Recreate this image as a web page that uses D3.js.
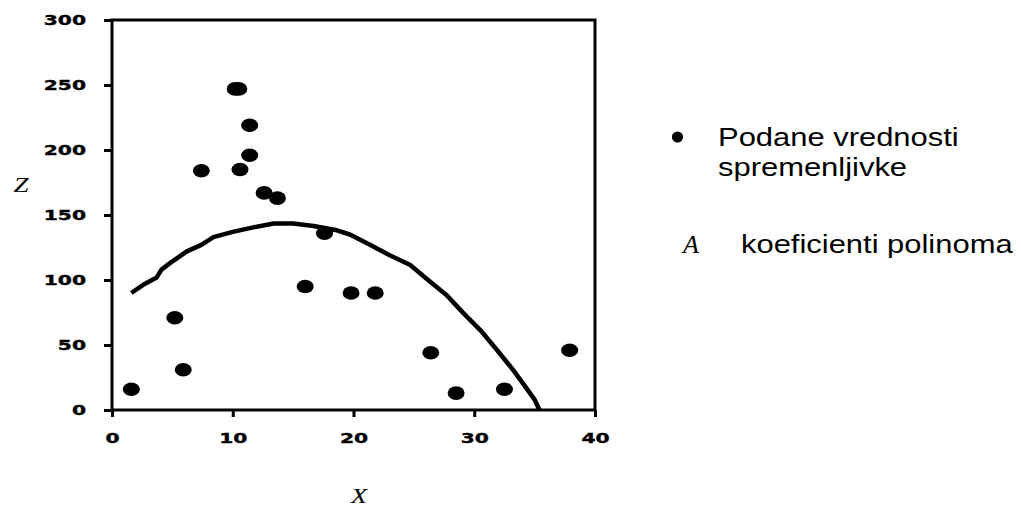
<!DOCTYPE html>
<html>
<head>
<meta charset="utf-8">
<script src="https://cdn.jsdelivr.net/npm/d3@7"></script>
<style>
  html, body { margin: 0; padding: 0; background: #fff; }
  svg { display: block; }
  .tick text { font-family: "DejaVu Sans", sans-serif; font-weight: bold; font-size: 14px; fill: #000; stroke: #000; stroke-width: 0.35px; }
</style>
</head>
<body>
<svg id="chart" width="1021" height="509"></svg>
<script>
// Observed values of the variable (X, Z)
const pointX = [1.6, 5.2, 5.9, 7.4, 10.2, 10.5, 10.6, 11.4, 11.4, 12.6, 13.7, 16.0, 17.6, 19.8, 21.8, 26.4, 28.5, 32.5, 37.9];
const pointZ = [16, 71, 31, 184, 247, 247, 185, 219, 196, 167, 163, 95, 136, 90, 90, 44, 13, 16, 46];

// Fitted polynomial curve, sampled along X
const fitX = [1.6, 2.7, 3.7, 4.1, 4.8, 6.2, 7.4, 8.4, 10.0, 11.7, 13.4, 15.0, 16.7, 18.5, 19.7, 21.4, 23.0, 24.7, 26.3, 27.7, 29.1, 30.5, 31.9, 33.2, 34.3, 35.0, 35.4];
const fitZ = [90, 97, 102, 108, 113, 122, 127, 133, 137, 140.5, 143.5, 143.5, 141.5, 138.5, 135, 127, 119, 111.5, 99, 88.5, 74.5, 61.5, 46, 31, 17, 8, 0];

// Axis ticks
const xTicks = [0, 10, 20, 30, 40];
const zTicks = [0, 50, 100, 150, 200, 250, 300];

// Legend entries
const legendLines = ["Podane vrednosti", "spremenljivke"];
const legendSecond = "koeficienti polinoma";

const svg = d3.select("#chart");
svg.append("rect").attr("width", 1021).attr("height", 509).attr("fill", "#fff");

const x = d3.scaleLinear().domain([0, 40]).range([112, 595]);
const y = d3.scaleLinear().domain([0, 300]).range([410, 20]);
const stretch = 1.45;

// Y axis
const yAxis = svg.append("g")
  .attr("transform", `translate(${x(0)},0)`)
  .call(d3.axisLeft(y).tickValues(zTicks).tickSize(8).tickSizeOuter(0).tickFormat(d3.format("d")));
yAxis.select(".domain").remove();
yAxis.selectAll(".tick line").attr("stroke", "#000").attr("stroke-width", 3);
yAxis.selectAll(".tick text")
  .attr("x", -26 / stretch)
  .attr("transform", `scale(${stretch},1)`);

// X axis
const xAxis = svg.append("g")
  .attr("transform", `translate(0,${y(0)})`)
  .call(d3.axisBottom(x).tickValues(xTicks).tickSize(7).tickSizeOuter(0).tickFormat(d3.format("d")));
xAxis.select(".domain").remove();
xAxis.selectAll(".tick line").attr("stroke", "#000").attr("stroke-width", 3);
xAxis.selectAll(".tick text")
  .attr("y", 23)
  .attr("transform", `scale(${stretch},1)`);

// Frame around the plot area
svg.append("rect")
  .attr("x", x(0)).attr("y", y(300))
  .attr("width", x(40) - x(0)).attr("height", y(0) - y(300))
  .attr("fill", "none").attr("stroke", "#000").attr("stroke-width", 3);

// Polynomial curve
const line = d3.line().x(d => x(d[0])).y(d => y(d[1]));
svg.append("path")
  .datum(fitX.map((v, i) => [v, fitZ[i]]))
  .attr("d", line)
  .attr("fill", "none")
  .attr("stroke", "#000")
  .attr("stroke-width", 4.5)
  .attr("stroke-linejoin", "round");

// Data points
svg.append("g").selectAll("ellipse")
  .data(pointX.map((v, i) => [v, pointZ[i]]))
  .join("ellipse")
  .attr("cx", d => x(d[0]))
  .attr("cy", d => y(d[1]))
  .attr("rx", 8.5)
  .attr("ry", 6.8)
  .attr("fill", "#000");

// Axis titles
const serif = "'Liberation Serif', 'Times New Roman', serif";
svg.append("text")
  .attr("transform", "translate(21,192) scale(1.35,1)")
  .attr("text-anchor", "middle")
  .attr("font-family", serif).attr("font-style", "italic").attr("font-size", 20)
  .text("Z");
svg.append("text")
  .attr("transform", "translate(359,503) scale(1.35,1)")
  .attr("text-anchor", "middle")
  .attr("font-family", serif).attr("font-style", "italic").attr("font-size", 20)
  .text("X");

// Legend
const sans = "'Liberation Sans', Arial, sans-serif";
const lg = svg.append("g");
lg.append("circle")
  .attr("cx", 677.5).attr("cy", 137).attr("r", 5.6)
  .attr("fill", "#000");
lg.selectAll("text.lbl")
  .data(legendLines)
  .join("text")
  .attr("class", "lbl")
  .attr("transform", (d, i) => `translate(718,${146 + i * 30}) scale(1.19,1)`)
  .attr("font-family", sans).attr("font-size", 26).attr("fill", "#000")
  .text(d => d);
lg.append("text")
  .attr("transform", "translate(683,253)")
  .attr("font-family", serif).attr("font-style", "italic").attr("font-size", 26)
  .text("A");
lg.append("text")
  .attr("transform", "translate(741,253) scale(1.19,1)")
  .attr("font-family", sans).attr("font-size", 26).attr("fill", "#000")
  .text(legendSecond);
</script>
</body>
</html>
